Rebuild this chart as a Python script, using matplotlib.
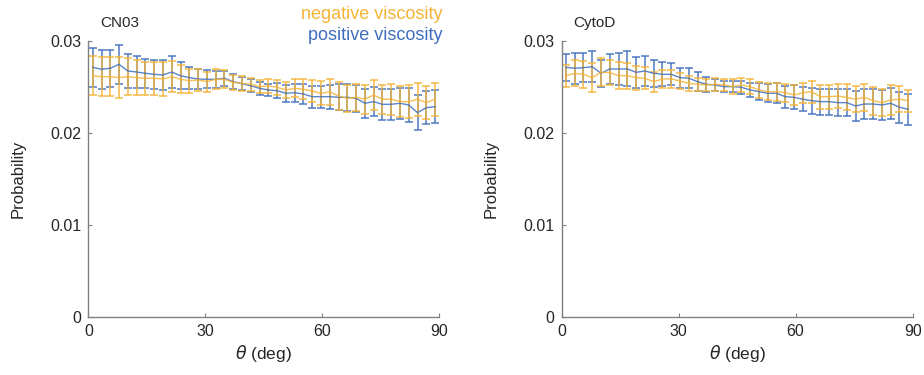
import numpy as np
import matplotlib.pyplot as plt

plt.rcParams['font.family'] = ['Liberation Sans', 'DejaVu Sans']

# bin centres (deg), 40 bins of 2.25 deg
theta = np.arange(40) * 2.25 + 1.125

# CN03
cn03_pos = [0.02717, 0.02696, 0.02707, 0.02750, 0.02677, 0.02666, 0.02652, 0.02641, 0.02634, 0.02666,
            0.02626, 0.02605, 0.02590, 0.02587, 0.02587, 0.02598, 0.02561, 0.02539, 0.02517, 0.02489,
            0.02471, 0.02463, 0.02435, 0.02441, 0.02427, 0.02398, 0.02398, 0.02398, 0.02391, 0.02391,
            0.02380, 0.02326, 0.02344, 0.02315, 0.02315, 0.02326, 0.02308, 0.02224, 0.02278, 0.02289]
cn03_pos_err = [0.0021, 0.0021, 0.0020, 0.0021, 0.0018, 0.0017, 0.0016, 0.0016, 0.0016, 0.0017,
                0.0015, 0.0012, 0.0011, 0.0010, 0.0009, 0.0008, 0.0008, 0.0007, 0.0007, 0.0007,
                0.0007, 0.0008, 0.0009, 0.0010, 0.0011, 0.0012, 0.0012, 0.0013, 0.0014, 0.0015,
                0.0015, 0.0016, 0.0016, 0.0017, 0.0017, 0.0017, 0.0018, 0.0019, 0.0018, 0.0018]
cn03_neg = [0.02626, 0.02615, 0.02615, 0.02605, 0.02615, 0.02605, 0.02598, 0.02598, 0.02590, 0.02615,
            0.02587, 0.02572, 0.02580, 0.02561, 0.02587, 0.02587, 0.02554, 0.02543, 0.02533, 0.02507,
            0.02514, 0.02500, 0.02471, 0.02489, 0.02478, 0.02460, 0.02435, 0.02452, 0.02405, 0.02380,
            0.02391, 0.02370, 0.02416, 0.02370, 0.02370, 0.02344, 0.02344, 0.02370, 0.02333, 0.02370]
cn03_neg_err = [0.0021, 0.0021, 0.0021, 0.0022, 0.0020, 0.0019, 0.0018, 0.0018, 0.0018, 0.0017,
                0.0015, 0.0013, 0.0012, 0.0011, 0.0011, 0.0010, 0.0008, 0.0008, 0.0007, 0.0007,
                0.0008, 0.0008, 0.0009, 0.0010, 0.0011, 0.0012, 0.0013, 0.0014, 0.0015, 0.0015,
                0.0015, 0.0016, 0.0016, 0.0016, 0.0017, 0.0017, 0.0018, 0.0018, 0.0018, 0.0018]

# CytoD
cyto_pos = [0.02717, 0.02707, 0.02713, 0.02724, 0.02652, 0.02699, 0.02699, 0.02699, 0.02663, 0.02677,
            0.02652, 0.02641, 0.02641, 0.02605, 0.02598, 0.02561, 0.02533, 0.02525, 0.02507, 0.02507,
            0.02500, 0.02471, 0.02452, 0.02435, 0.02435, 0.02398, 0.02391, 0.02370, 0.02354, 0.02344,
            0.02344, 0.02333, 0.02333, 0.02297, 0.02318, 0.02318, 0.02308, 0.02326, 0.02283, 0.02261]
cyto_pos_err = [0.0015, 0.0017, 0.0016, 0.0017, 0.0015, 0.0016, 0.0017, 0.0019, 0.0017, 0.0016,
                0.0015, 0.0013, 0.0012, 0.0011, 0.0011, 0.0010, 0.0008, 0.0007, 0.0006, 0.0006,
                0.0007, 0.0008, 0.0009, 0.0010, 0.0011, 0.0012, 0.0013, 0.0013, 0.0014, 0.0014,
                0.0014, 0.0015, 0.0015, 0.0016, 0.0016, 0.0016, 0.0016, 0.0017, 0.0017, 0.0017]
cyto_neg = [0.02626, 0.02652, 0.02641, 0.02605, 0.02663, 0.02660, 0.02626, 0.02626, 0.02605, 0.02598,
            0.02561, 0.02590, 0.02590, 0.02568, 0.02543, 0.02533, 0.02525, 0.02533, 0.02525, 0.02507,
            0.02525, 0.02507, 0.02471, 0.02452, 0.02452, 0.02441, 0.02416, 0.02441, 0.02452, 0.02398,
            0.02398, 0.02405, 0.02391, 0.02370, 0.02391, 0.02354, 0.02333, 0.02362, 0.02370, 0.02354]
cyto_neg_err = [0.0012, 0.0014, 0.0015, 0.0016, 0.0015, 0.0014, 0.0015, 0.0014, 0.0013, 0.0012,
                0.0011, 0.0010, 0.0010, 0.0009, 0.0008, 0.0007, 0.0007, 0.0007, 0.0007, 0.0008,
                0.0008, 0.0008, 0.0009, 0.0009, 0.0010, 0.0010, 0.0011, 0.0011, 0.0012, 0.0013,
                0.0013, 0.0013, 0.0014, 0.0014, 0.0015, 0.0015, 0.0015, 0.0016, 0.0014, 0.0012]

titles = ['CN03', 'CytoD']
xticks = [0, 30, 60, 90]
yticks = [0, 0.01, 0.02, 0.03]
ytick_labels = ['0', '0.01', '0.02', '0.03']

blue = '#3F6EBF'
yellow = '#F5B335'
axcol = '#808080'
txtcol = '#262626'

fig = plt.figure(figsize=(9.24, 3.75), dpi=100)
ax1 = fig.add_axes([0.0956, 0.1539, 0.38, 0.736])
ax2 = fig.add_axes([0.6077, 0.1539, 0.38, 0.736])

panels = [(ax1, cn03_pos, cn03_pos_err, cn03_neg, cn03_neg_err),
          (ax2, cyto_pos, cyto_pos_err, cyto_neg, cyto_neg_err)]

for i, (ax, pos, pos_err, neg, neg_err) in enumerate(panels):
    ax.errorbar(theta, pos, yerr=pos_err, color=blue, lw=1.0, elinewidth=1.2,
                capsize=3, capthick=1.2, alpha=0.85)
    ax.errorbar(theta, neg, yerr=neg_err, color=yellow, lw=1.0, elinewidth=1.2,
                capsize=3, capthick=1.2, alpha=0.85)
    ax.set_xlim(0, 90)
    ax.set_ylim(0, 0.03)
    ax.set_xticks(xticks)
    ax.set_yticks(yticks)
    ax.set_yticklabels(ytick_labels)
    for s in ['top', 'right']:
        ax.spines[s].set_visible(False)
    for s in ['left', 'bottom']:
        ax.spines[s].set_color(axcol)
        ax.spines[s].set_linewidth(1.0)
    ax.tick_params(direction='in', length=3, color=axcol, labelcolor=txtcol,
                   labelsize=11.5, pad=5)
    ax.set_xlabel(r'$\theta$ (deg)', fontsize=12.5, color=txtcol, labelpad=3)
    ax.set_ylabel('Probability', fontsize=12, color=txtcol, labelpad=18)
    ax.text(0.033, 1.05, titles[i], transform=ax.transAxes, fontsize=11,
            color=txtcol, ha='left', va='baseline')

ax1.text(1.008, 1.081, 'negative viscosity', transform=ax1.transAxes, fontsize=13,
         color=yellow, ha='right', va='baseline')
ax1.text(1.008, 1.004, 'positive viscosity', transform=ax1.transAxes, fontsize=13,
         color=blue, ha='right', va='baseline')

fig.savefig('out.png', dpi=100)
